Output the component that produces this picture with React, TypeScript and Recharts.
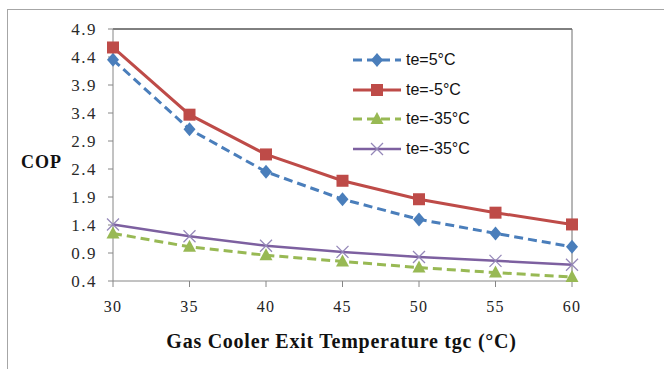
import {
  LineChart,
  Line,
  XAxis,
  YAxis,
  Legend,
  ReferenceLine,
} from 'recharts'

const tgc = [30, 35, 40, 45, 50, 55, 60]
const copTe5 = [4.35, 3.11, 2.35, 1.86, 1.5, 1.25, 1.01]
const copTeMinus5 = [4.57, 3.37, 2.66, 2.19, 1.86, 1.62, 1.41]
const copTeMinus35a = [1.25, 1.01, 0.86, 0.75, 0.64, 0.55, 0.47]
const copTeMinus35b = [1.41, 1.2, 1.03, 0.92, 0.83, 0.76, 0.69]
const yTicks = [0.4, 0.9, 1.4, 1.9, 2.4, 2.9, 3.4, 3.9, 4.4, 4.9]
const seriesNames = ['te=5°C', 'te=-5°C', 'te=-35°C', 'te=-35°C']

const data = tgc.map((t, i) => ({
  tgc: t,
  s1: copTe5[i],
  s2: copTeMinus5[i],
  s3: copTeMinus35a[i],
  s4: copTeMinus35b[i],
}))

const BLUE = '#4a7ebb'
const RED = '#be4b48'
const GREEN = '#98b954'
const PURPLE = '#7d60a0'
const AXIS = '#868686'
const SERIF = '"Liberation Serif", "Times New Roman", serif'

function Marker({ kind, cx, cy }: { kind: string; cx: number; cy: number }) {
  if (kind === 'diamond')
    return <polygon points={`${cx},${cy - 7} ${cx + 6},${cy} ${cx},${cy + 7} ${cx - 6},${cy}`} fill={BLUE} />
  if (kind === 'square')
    return <rect x={cx - 6} y={cy - 6} width={12} height={12} fill={RED} />
  if (kind === 'triangle')
    return <polygon points={`${cx},${cy - 7} ${cx + 6.5},${cy + 5} ${cx - 6.5},${cy + 5}`} fill={GREEN} />
  return (
    <g stroke="#9487b8" strokeWidth={1.3}>
      <line x1={cx - 6} y1={cy - 6} x2={cx + 6} y2={cy + 6} />
      <line x1={cx - 6} y1={cy + 6} x2={cx + 6} y2={cy - 6} />
    </g>
  )
}

const series = [
  { key: 's1', name: seriesNames[0], color: BLUE, dash: '9 5', width: 3, marker: 'diamond' },
  { key: 's2', name: seriesNames[1], color: RED, dash: undefined, width: 3, marker: 'square' },
  { key: 's3', name: seriesNames[2], color: GREEN, dash: '9 5', width: 3, marker: 'triangle' },
  { key: 's4', name: seriesNames[3], color: PURPLE, dash: undefined, width: 2.5, marker: 'x' },
]

function LegendBox() {
  return (
    <div style={{ fontFamily: '"Liberation Sans", Arial, sans-serif', fontSize: 16, color: '#111' }}>
      {series.map((s, i) => (
        <div key={i} style={{ display: 'flex', alignItems: 'center', height: 29.7 }}>
          <svg width={50} height={16} style={{ display: 'block' }}>
            <line x1={1} y1={8} x2={49} y2={8} stroke={s.color} strokeWidth={s.width} strokeDasharray={s.dash} />
            <Marker kind={s.marker} cx={25} cy={8} />
          </svg>
          <span style={{ marginLeft: 4 }}>{s.name}</span>
        </div>
      ))}
    </div>
  )
}

export default function App() {
  return (
    <div style={{ position: 'absolute', left: 0, top: 0, width: 664, height: 369, background: '#fff' }}>
      <div
        style={{
          position: 'absolute',
          left: 7,
          top: 9,
          width: 657,
          height: 360,
          borderTop: '1px solid #a6a6a6',
          borderLeft: '1px solid #a6a6a6',
          boxSizing: 'border-box',
        }}
      />
      <LineChart
        width={664}
        height={369}
        data={data}
        margin={{ top: 29, right: 92, left: 21, bottom: 58 }}
        style={{ position: 'absolute', left: 0, top: 0 }}
      >
        <XAxis
          dataKey="tgc"
          type="number"
          domain={[30, 60]}
          ticks={tgc}
          height={30}
          stroke={AXIS}
          tickSize={6}
          tickMargin={14}
          tick={{ fill: '#222', fontSize: 16, fontFamily: SERIF, letterSpacing: 1.2 }}
          label={{
            content: ({ viewBox }: any) => (
              <text
                x={viewBox.x + viewBox.width / 2 - 1}
                y={viewBox.y + viewBox.height + 37}
                textAnchor="middle"
                fontFamily={SERIF}
                fontWeight="bold"
                fontSize={20}
                letterSpacing={0.75}
                fill="#111"
              >
                Gas Cooler Exit Temperature tgc (°C)
              </text>
            ),
          }}
        />
        <YAxis
          type="number"
          domain={[0.4, 4.9]}
          ticks={yTicks}
          width={92}
          stroke={AXIS}
          tickSize={5}
          tickMargin={11}
          tickFormatter={(v: number) => v.toFixed(1)}
          tick={{ fill: '#2a2a2a', fontSize: 17, fontFamily: SERIF, letterSpacing: 1.5 }}
          label={{
            content: ({ viewBox }: any) => (
              <text
                x={viewBox.x}
                y={viewBox.y + viewBox.height / 2 + 13}
                fontFamily={SERIF}
                fontWeight="bold"
                fontSize={18}
                letterSpacing={1}
                fill="#111"
              >
                COP
              </text>
            ),
          }}
        />
        <ReferenceLine y={4.9} stroke="#000" strokeWidth={1} />
        <ReferenceLine x={60} stroke="#6f6f6f" strokeWidth={1} />
        <Legend
          layout="vertical"
          align="center"
          verticalAlign="middle"
          content={() => <LegendBox />}
          wrapperStyle={{ top: 45, left: 352, width: 150, height: 'auto' }}
        />
        {series.map((s) => (
          <Line
            key={s.key}
            dataKey={s.key}
            name={s.name}
            type="linear"
            stroke={s.color}
            strokeWidth={s.width}
            strokeDasharray={s.dash}
            isAnimationActive={false}
            dot={(p: any) => <Marker key={`${s.key}-${p.index}`} kind={s.marker} cx={p.cx} cy={p.cy} />}
            activeDot={false}
          />
        ))}
      </LineChart>
    </div>
  )
}
